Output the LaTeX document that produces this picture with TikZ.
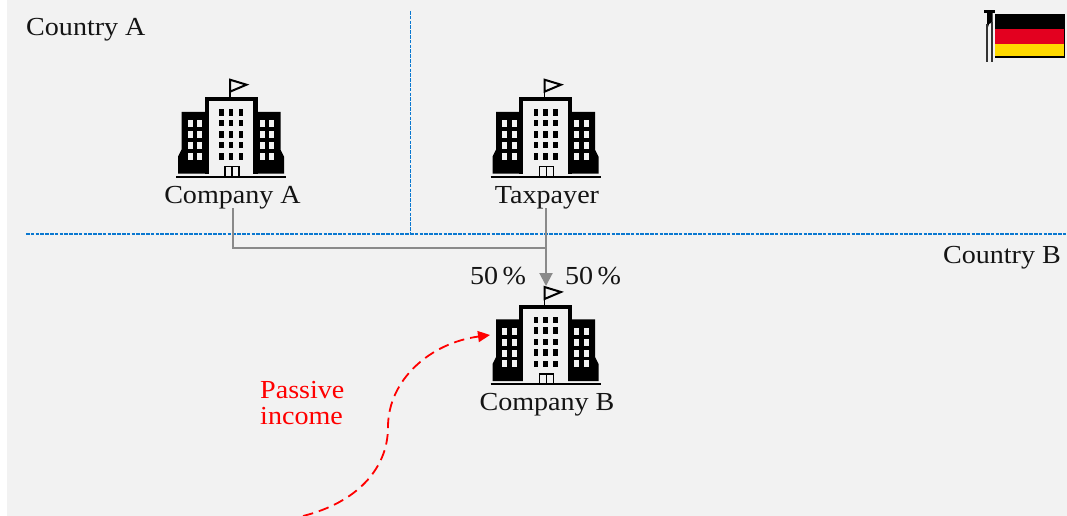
\documentclass[tikz,border=0pt]{standalone}
\usepackage{fontspec}
\setmainfont[FakeStretch=1.08]{Liberation Serif}
\usetikzlibrary{arrows.meta}
\definecolor{bgc}{HTML}{F2F2F2}
\definecolor{bluel}{HTML}{0A78D0}
\definecolor{grayl}{HTML}{8A8A8A}
\definecolor{flagred}{HTML}{E3001F}
\definecolor{flagyel}{HTML}{FFD900}
\tikzset{
  lbl/.style={font=\fontsize{26}{26}\selectfont, inner sep=0pt, text=black!92},
  border/.style={bluel, line width=1.2pt, dash pattern=on 3.6pt off 1.2pt},
  holding/.style={grayl, line width=2pt},
  income/.style={red, line width=1.8pt, dash pattern=on 10.5pt off 6pt},
  building/.pic={
    % wings
    \fill[black] (-49.5,-64.7) -- (-22,-64.7) -- (-22,-3) -- (-53,-3) -- (-53,-20) -- (-49.5,-27) -- cycle;
    \fill[black] (49.5,-64.7) -- (22,-64.7) -- (22,-3) -- (53,-3) -- (53,-20) -- (49.5,-27) -- cycle;
    % wing windows
    \foreach \wy in {-56.3,-45.3,-34.3,-23.6} {
      \foreach \wx in {-43.5,-34,28.5,38} {
        \fill[bgc] (\wx,\wy) rectangle ++(5.4,7);
      }
    }
    % centre block
    \fill[black] (-26.5,-3) -- (-26.5,-79.5) -- (26.5,-79.5) -- (26.5,-3) -- cycle;
    \fill[bgc] (-22.3,0) -- (-22.3,-75.5) -- (22.3,-75.5) -- (22.3,0) -- cycle;
    % centre windows
    \foreach \wy in {-67.4,-56.7,-45.4,-34.7,-23.4} {
      \foreach \wx in {-12,-2.3,7.7} {
        \fill[black] (\wx,\wy) rectangle ++(4.5,6.4);
      }
    }
    % door
    \draw[black, line width=1.4pt, fill=bgc] (-6,0) rectangle (8,-10);
    \draw[black, line width=1.4pt] (1,0) -- (1,-10);
    % base line
    \draw[black, line width=2pt] (-55,0) -- (55,0);
    % flag
    \draw[black, line width=1.8pt] (-1,-79.5) -- (-1,-98);
    \draw[black, line width=2pt, fill=bgc, line join=miter] (-1,-97) -- (15.5,-92) -- (-1,-85) -- cycle;
  }
}
\begin{document}
\begin{tikzpicture}[x=1pt,y=-1pt]
\useasboundingbox (0,0) rectangle (1067,516);
\fill[white] (0,0) rectangle (1067,516);
\fill[bgc] (7,0) rectangle (1067,516);
% country borders
\coordinate (vtop) at (410.5,11);
\coordinate (vbot) at (410.5,234);
\coordinate (hleft) at (26,234);
\coordinate (hright) at (1067,234);
\draw[border] (vtop) -- (vbot);
\draw[border] (hleft) -- (hright);
% labels
\node[lbl, anchor=west] (countryA) at (26,30) {Country A};
\node[lbl, anchor=east] (countryB) at (1061,258) {Country B};
% buildings
\pic at (231,176.7) {building};
\pic at (545.5,176.7) {building};
\pic at (545.5,384) {building};
\node[lbl] (companyA) at (232.5,198) {Company A};
\node[lbl] (taxpayer) at (547,198) {Taxpayer};
\node[lbl] (companyB) at (547,405) {Company B};
\coordinate (bBtop) at (546,286);
\coordinate (bBleft) at (490,335);
\coordinate (incomeStart) at (303,516);
\coordinate (incomeMid) at (388,427);
% holdings
\draw[holding] (233,208) |- (546,247.5);
\draw[holding, -{Triangle[length=13pt,width=13pt]}] (546,208) -- (bBtop);
\node[lbl] (pctL) at (498,276) {50\hspace{0.17em}\%};
\node[lbl] (pctR) at (593,276) {50\hspace{0.17em}\%};
% passive income
\draw[income, -{Triangle[length=12pt,width=11pt]}] (incomeStart) .. controls (355,503) and (388,470) .. (incomeMid) .. controls (388,380) and (430,343) .. (bBleft);
\node[lbl, text=red, align=left, anchor=west] (passive) at (260,403) {\fontsize{26}{26}\selectfont Passive\\income};
% flag of Germany
\fill[black] (995,14) rectangle (1065,58.5);
\fill[flagred] (995,29) rectangle (1063.5,44);
\fill[flagyel] (995,44) rectangle (1063.5,56.5);
\fill[black] (984,10) rectangle (995,13);
\fill[black] (987,13) -- (992.7,13) -- (992.7,22) -- (989,24) -- (987,30) -- cycle;
\draw[black!80, line width=2pt] (987,24) -- (987,62);
\draw[black!80, line width=2pt] (992.4,22) -- (992.4,62);
\end{tikzpicture}
\end{document}
